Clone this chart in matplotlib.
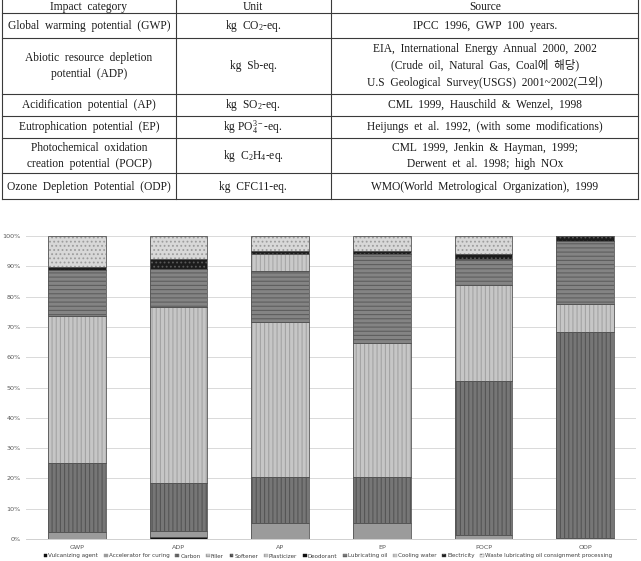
import matplotlib
matplotlib.use("Agg")
import matplotlib.pyplot as plt
from matplotlib.patches import Patch
import numpy as np

plt.rcParams['mathtext.fontset'] = 'custom'
plt.rcParams['mathtext.rm'] = 'Liberation Serif'
plt.rcParams['mathtext.it'] = 'Liberation Serif:italic'
plt.rcParams['hatch.linewidth'] = 0.8

# ---------------- table data ----------------
table_header = ["Impact  category", "Unit", "Source"]
table_col1 = ["Global  warming  potential  (GWP)",
              "Abiotic  resource  depletion\npotential  (ADP)",
              "Acidification  potential  (AP)",
              "Eutrophication  potential  (EP)",
              "Photochemical  oxidation\ncreation  potential  (POCP)",
              "Ozone  Depletion  Potential  (ODP)"]
table_col2 = [r"kg  CO$_\mathrm{2}$-eq.",
              "kg  Sb-eq.",
              r"kg  SO$_\mathrm{2}$-eq.",
              r"kg PO$_\mathrm{4}^\mathrm{3-}$-eq.",
              r"kg  C$_\mathrm{2}$H$_\mathrm{4}$-eq.",
              "kg  CFC11-eq."]
table_col3 = ["IPCC  1996,  GWP  100  years.",
              "EIA,  International  Energy  Annual  2000,  2002\n(Crude  oil,  Natural  Gas,  Coal에  해당)\nU.S  Geological  Survey(USGS)  2001~2002(그외)",
              "CML  1999,  Hauschild  &  Wenzel,  1998",
              "Heijungs  et  al.  1992,  (with  some  modifications)",
              "CML  1999,  Jenkin  &  Hayman,  1999;\nDerwent  et  al.  1998;  high  NOx",
              "WMO(World  Metrological  Organization),  1999"]

# ---------------- chart data ----------------
categories = ["GWP", "ADP", "AP", "EP", "POCP", "ODP"]
series_names = ["Vulcanizing agent", "Accelerator for curing", "Carbon", "Filler",
                "Softener", "Plasticizer", "Deodorant", "Lubricating oil",
                "Cooling water", "Electricity",
                "Waste lubricating oil consignment processing"]
vulcanizing = [0.0, 0.7, 0.0, 0.0, 0.0, 0.0]
accelerator = [2.3, 1.8, 5.2, 5.2, 1.3, 0.2]
carbon      = [22.9, 16.1, 15.2, 15.4, 51.0, 68.1]
filler      = [0.0, 0.0, 0.0, 0.0, 0.0, 0.0]
softener    = [0.0, 0.0, 0.0, 0.0, 0.0, 0.0]
plasticizer = [48.3, 57.9, 51.2, 44.0, 31.6, 9.2]
deodorant   = [0.0, 0.0, 0.0, 0.0, 0.0, 0.0]
lub_oil     = [15.2, 12.7, 16.8, 29.3, 8.4, 20.7]
cooling     = [0.0, 0.0, 5.7, 0.0, 0.0, 0.0]
electricity = [1.1, 3.1, 1.1, 1.1, 1.7, 1.8]
waste       = [10.2, 7.7, 4.8, 5.0, 6.0, 0.0]
yticks = [0, 10, 20, 30, 40, 50, 60, 70, 80, 90, 100]

series_values = [vulcanizing, accelerator, carbon, filler, softener, plasticizer,
                 deodorant, lub_oil, cooling, electricity, waste]
# (face, hatch, hatch colour)
styles = [("#111111", "", "#111111"),
          ("#9b9b9b", "", "#9b9b9b"),
          ("#767676", "||||", "#555555"),
          ("#d0d0d0", "++++", "#a0a0a0"),
          ("#6a6a6a", "xxxx", "#404040"),
          ("#c6c6c6", "||||", "#a4a4a4"),
          ("#111111", "", "#111111"),
          ("#848484", "----", "#5e5e5e"),
          ("#c9c9c9", "||||", "#a8a8a8"),
          ("#1c1c1c", "....", "#5a5a5a"),
          ("#d8d8d8", "....", "#9c9c9c")]

W, H = 641, 561
fig = plt.figure(figsize=(W / 100, H / 100), dpi=100)

# ---------------- table (pixel coordinates) ----------------
tax = fig.add_axes([0, 0, 1, 1])
tax.set_xlim(0, W)
tax.set_ylim(H, 0)
tax.axis("off")
hl = [13, 38, 94, 116, 138, 173, 199]
vl = [2, 176, 331, 638]
for y in hl:
    tax.plot([vl[0], vl[-1]], [y, y], color="#3a3a3a", lw=0.8)
for x in vl:
    tax.plot([x, x], [-2, hl[-1]], color="#3a3a3a", lw=0.8)
cx = [89, 253, 485]
row_c = [6.5, 26, 66, 105, 127, 156, 187]
tfont = dict(family=["Liberation Serif", "Noto Sans CJK KR"], fontsize=8.3,
             color="#1a1a1a", ha="center", va="center", linespacing=1.45)
for j, t in enumerate(table_header):
    tax.text(cx[j], row_c[0], t, **tfont)
for i in range(6):
    tax.text(cx[0], row_c[i + 1], table_col1[i], **tfont)
    tax.text(cx[1], row_c[i + 1], table_col2[i], **tfont)
    tax.text(cx[2], row_c[i + 1], table_col3[i], **tfont)

# ---------------- chart ----------------
ax = fig.add_axes([26 / W, (H - 539) / H, 610 / W, 303 / H])
x = np.arange(len(categories))
bottom = np.zeros(len(categories))
for vals, (fc, hatch, hc) in zip(series_values, styles):
    v = np.array(vals)
    ax.bar(x, v, 0.565, bottom=bottom, color=fc, hatch=hatch, edgecolor=hc,
           linewidth=0, zorder=3)
    ax.bar(x, v, 0.565, bottom=bottom, fill=False, edgecolor="#555555",
           linewidth=0.6, zorder=4)
    bottom += v

ax.set_xlim(-0.5, len(categories) - 0.5)
ax.set_ylim(0, 100)
ax.set_yticks(yticks)
ax.set_yticklabels([f"{t}%" for t in yticks])
ax.set_xticks(x)
ax.set_xticklabels(categories)
ax.tick_params(axis="both", length=0, labelsize=4.6, labelcolor="#595959")
ax.tick_params(axis="y", pad=4)
ax.tick_params(axis="x", pad=4)
ax.grid(axis="y", color="#d9d9d9", lw=0.7, zorder=0)
for s in ["top", "right", "left"]:
    ax.spines[s].set_visible(False)
ax.spines["bottom"].set_color("#d0d0d0")
ax.spines["bottom"].set_linewidth(0.7)
ax.patch.set_alpha(0)

handles = [Patch(facecolor=fc, hatch=hatch, edgecolor=hc, linewidth=0.3)
           for (fc, hatch, hc) in styles]
handles[-1] = Patch(facecolor="#f0f0f0", hatch="....", edgecolor="#777777", linewidth=0.3)
leg = fig.legend(handles, series_names, loc="center", ncol=11,
                 bbox_to_anchor=(328 / W, (H - 556) / H), frameon=False,
                 fontsize=4.1, handlelength=0.65, handleheight=0.65,
                 handletextpad=0.2, columnspacing=1.0, borderpad=0,
                 labelcolor="#404040")

fig.savefig("out.png", dpi=100)
